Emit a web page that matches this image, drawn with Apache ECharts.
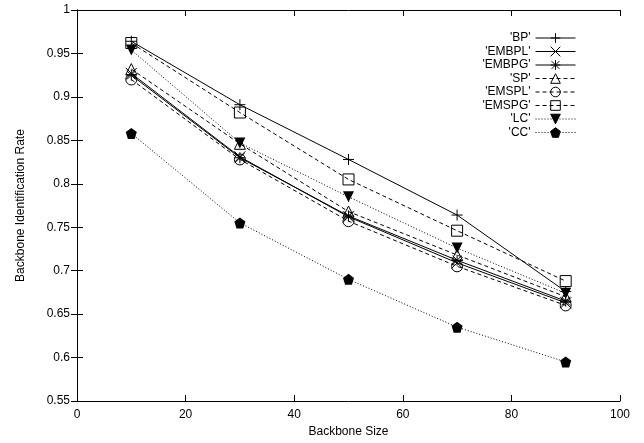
<!DOCTYPE html>
<html>
<head>
<meta charset="utf-8">
<script src="https://cdn.jsdelivr.net/npm/echarts@6/dist/echarts.min.js"></script>
<style>
  html, body { margin: 0; padding: 0; background: #fff; }
  #chart { width: 644px; height: 443px; }
</style>
</head>
<body>
<div id="chart"></div>
<script>
// data
const sizes = [10, 30, 50, 70, 90];
const seriesNames = ["'BP'", "'EMBPL'", "'EMBPG'", "'SP'", "'EMSPL'", "'EMSPG'", "'LC'", "'CC'"];
const bp    = [0.964, 0.891, 0.828, 0.764, 0.676];
const embpl = [0.927, 0.831, 0.762, 0.709, 0.663];
const embpg = [0.925, 0.830, 0.763, 0.712, 0.665];
const sp    = [0.932, 0.846, 0.768, 0.718, 0.670];
const emspl = [0.920, 0.828, 0.757, 0.705, 0.660];
const emspg = [0.962, 0.882, 0.805, 0.746, 0.688];
const lc    = [0.954, 0.847, 0.785, 0.726, 0.674];
const cc    = [0.858, 0.755, 0.690, 0.635, 0.595];

const font = 'Liberation Sans, Arial, sans-serif';
const fs = 12;

// marker shapes, gnuplot style
const SYM = {
    plus: 'path://M0,5L10,5M5,0L5,10',
    cross: 'path://M0,0L10,10M10,0L0,10',
    star: 'path://M0,5L10,5M5,0L5,10M1,1L9,9M9,1L1,9',
    tri: 'path://M5,0L10,9L0,9Z',
    circle: 'circle',
    square: 'rect',
    triDown: 'path://M0,0L10,0L5,9Z',
    penta: 'path://M5,0L10,3.6L8.1,9.5L1.9,9.5L0,3.6Z'
};

function line(name, data, symbol, filled, dash) {
    return {
        name: name,
        type: 'line',
        data: sizes.map((x, i) => [x, data[i]]),
        symbol: symbol,
        symbolSize: 11,
        showSymbol: true,
        lineStyle: { color: '#000', width: 1, type: dash },
        itemStyle: filled
            ? { color: '#000', borderColor: '#000', borderWidth: 0 }
            : { color: 'rgba(0,0,0,0)', borderColor: '#000', borderWidth: 1 },
        emphasis: { disabled: true },
        animation: false
    };
}

const dashed = [4, 3];
const dotted = [1, 2];

const chart = echarts.init(document.getElementById('chart'));

const option = {
    backgroundColor: '#fff',
    animation: false,
    grid: { left: 77, right: 24, top: 10, bottom: 42 },
    legend: {
        right: 68,
        top: 32,
        padding: 0,
        orient: 'vertical',
        align: 'right',
        itemWidth: 40,
        itemHeight: 12,
        itemGap: 1.5,
        data: seriesNames,
        lineStyle: { width: 1 },
        itemStyle: { borderWidth: 1 },
        formatter: '{a|{name}}',
        textStyle: {
            fontFamily: font,
            fontSize: fs,
            color: '#000',
            rich: { a: { width: 60, align: 'right', fontFamily: font, fontSize: fs, color: '#000' } }
        }
    },
    xAxis: [
        {
            type: 'value', min: 0, max: 100, interval: 20,
            name: 'Backbone Size', nameLocation: 'middle', nameGap: 24,
            nameTextStyle: { fontFamily: font, fontSize: fs, color: '#000' },
            axisLine: { lineStyle: { color: '#000', width: 1 } },
            axisTick: { inside: true, length: 6, lineStyle: { color: '#000' } },
            axisLabel: { fontFamily: font, fontSize: fs, color: '#000', margin: 8 },
            splitLine: { show: false }
        },
        {
            type: 'value', min: 0, max: 100, interval: 20, position: 'top',
            axisLine: { lineStyle: { color: '#000', width: 1 } },
            axisTick: { inside: true, length: 6, lineStyle: { color: '#000' } },
            axisLabel: { show: false },
            splitLine: { show: false }
        }
    ],
    yAxis: [
        {
            type: 'value', min: 0.55, max: 1, interval: 0.05,
            name: 'Backbone Identification Rate', nameLocation: 'middle', nameGap: 50,
            nameTextStyle: { fontFamily: font, fontSize: fs, color: '#000' },
            axisLine: { show: true, lineStyle: { color: '#000', width: 1 } },
            axisTick: { show: true, inside: true, length: 6, lineStyle: { color: '#000' } },
            axisLabel: {
                fontFamily: font, fontSize: fs, color: '#000', margin: 7,
                formatter: v => String(+v.toFixed(2))
            },
            splitLine: { show: false }
        },
        {
            type: 'value', min: 0.55, max: 1, interval: 0.05, position: 'right',
            axisLine: { show: true, lineStyle: { color: '#000', width: 1 } },
            axisTick: { show: true, inside: true, length: 6, lineStyle: { color: '#000' } },
            axisLabel: { show: false },
            splitLine: { show: false }
        }
    ],
    series: [
        line(seriesNames[0], bp, SYM.plus, false, 'solid'),
        line(seriesNames[1], embpl, SYM.cross, false, 'solid'),
        line(seriesNames[2], embpg, SYM.star, false, 'solid'),
        line(seriesNames[3], sp, SYM.tri, false, dashed),
        line(seriesNames[4], emspl, SYM.circle, false, dashed),
        line(seriesNames[5], emspg, SYM.square, false, dashed),
        line(seriesNames[6], lc, SYM.triDown, true, dotted),
        line(seriesNames[7], cc, SYM.penta, true, dotted)
    ]
};

chart.setOption(option);
</script>
</body>
</html>
